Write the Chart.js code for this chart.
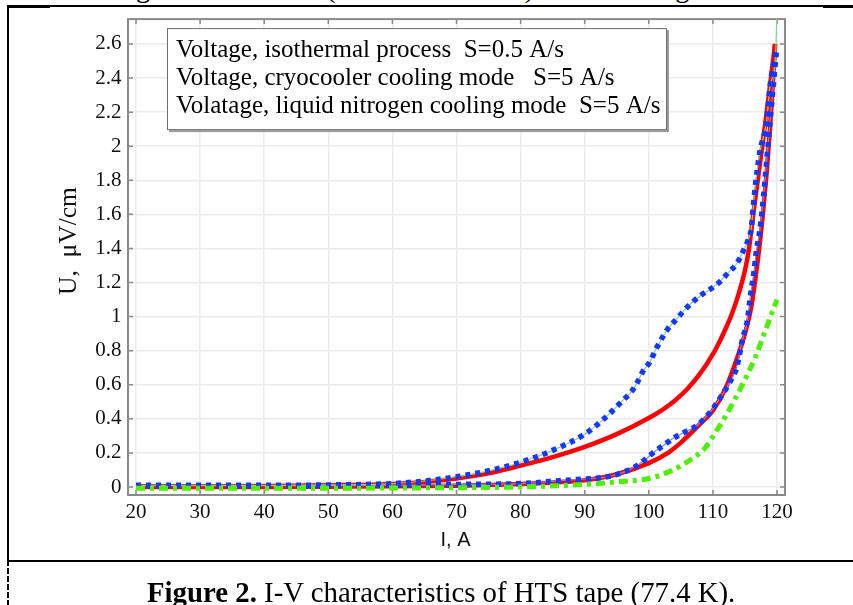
<!DOCTYPE html>
<html lang="en">
<head>
<meta charset="UTF-8">
<title>I-V characteristics of HTS tape</title>
<style>
  html, body { margin: 0; padding: 0; background: #fff; overflow: hidden; }
  #wrap { position: relative; width: 853px; height: 605px; }
  #ivChart { position: absolute; left: 0; top: 0; }
  .rule { position: absolute; background: #000; }
  .serif { position: absolute; font-family: 'Liberation Serif', 'Times New Roman', serif; white-space: pre; color: #000; }
  .cut { font-size: 28.5px; line-height: 28.5px; top: -26px; }
  #caption { left: 147px; top: 578px; font-size: 28.8px; line-height: 28.8px; }
</style>
</head>
<body>
<div id="wrap">
  <!-- bottom of the text line above the figure, cut by the page crop -->
  <span class="serif cut" style="left:79px">voltage</span>
  <span class="serif cut" style="left:326px">(in a normal state)</span>
  <span class="serif cut" style="left:604px">cooling</span>

  <div class="rule" style="left:8px; top:5px; width:845px; height:2px"></div>
  <div class="rule" style="left:8px; top:7px; width:42px; height:1px"></div>
  <div class="rule" style="left:823px; top:7px; width:30px; height:1px"></div>
  <div class="rule" style="left:7px; top:5px; width:2px; height:555px"></div>
  <div class="rule" style="left:7px; top:560px; width:2px; height:45px; background:repeating-linear-gradient(to bottom,#000 0 6px,transparent 6px 8px)"></div>
  <div class="rule" style="left:8px; top:560px; width:845px; height:1.5px"></div>
  <div class="rule" style="left:8px; top:561px; width:42px; height:1px"></div>

  <canvas id="ivChart" width="853" height="605"></canvas>

  <div id="caption" class="serif"><b>Figure 2.</b> I-V characteristics of HTS tape (77.4 K).</div>
</div>

<script src="https://cdn.jsdelivr.net/npm/chart.js"></script>
<script>
// axis ticks
const xTicks = [20, 30, 40, 50, 60, 70, 80, 90, 100, 110, 120];
const yTicks = [0, 0.2, 0.4, 0.6, 0.8, 1, 1.2, 1.4, 1.6, 1.8, 2, 2.2, 2.4, 2.6];

const legendLabels = [
  'Voltage, isothermal process  S=0.5 A/s',
  'Voltage, cryocooler cooling mode   S=5 A/s',
  'Volatage, liquid nitrogen cooling mode  S=5 A/s'
];

// red solid loop, lower branch (I, A ; U, uV/cm)
const redLowI = [20, 30, 40, 50, 60, 70, 75, 80, 85, 90, 95, 100, 103, 105, 108, 110, 112, 114, 115, 116, 117, 117.8, 118.4, 118.9, 119.3, 119.7];
const redLowU = [0, 0, 0, 0.002, 0.004, 0.008, 0.012, 0.018, 0.027, 0.04, 0.075, 0.14, 0.2, 0.26, 0.37, 0.45, 0.58, 0.78, 0.9, 1.06, 1.33, 1.6, 1.85, 2.1, 2.33, 2.6];
// red solid loop, upper branch
const redHighI = [20, 30, 40, 50, 60, 65, 70, 75, 80, 85, 90, 95, 100, 102, 104, 106, 108, 110, 111, 112, 113, 114, 115, 115.6, 116.4, 117.6, 118.7, 119.7];
const redHighU = [0.005, 0.005, 0.006, 0.01, 0.018, 0.03, 0.05, 0.08, 0.125, 0.175, 0.235, 0.31, 0.405, 0.45, 0.505, 0.575, 0.665, 0.78, 0.85, 0.93, 1.02, 1.13, 1.27, 1.39, 1.63, 1.97, 2.29, 2.6];

// blue dotted loop, upper branch
const blueHighI = [20, 30, 40, 50, 60, 65, 70, 75, 80, 85, 90, 93, 96, 97.3, 98.3, 99.1, 100.2, 101, 102, 103, 104.3, 105.6, 106.9, 108.2, 109.8, 111.1, 112.4, 113.7, 114.8, 115.5, 116, 116.3, 116.6, 117.3, 118.4, 118.9, 119.8];
const blueHighU = [0.01, 0.01, 0.01, 0.012, 0.02, 0.035, 0.06, 0.095, 0.145, 0.215, 0.31, 0.4, 0.51, 0.56, 0.62, 0.68, 0.735, 0.8, 0.87, 0.93, 0.984, 1.04, 1.087, 1.127, 1.166, 1.205, 1.258, 1.31, 1.39, 1.45, 1.52, 1.645, 1.76, 1.96, 2.15, 2.35, 2.55];
// blue dotted loop, lower branch
const blueLowI = [20, 30, 40, 50, 60, 70, 80, 86, 90, 92.7, 94.3, 96.3, 97.9, 99.4, 101, 102.5, 104, 105.5, 107.1, 108.4, 110, 111.6, 112.7, 113.7, 114.7, 115.3, 116, 116.4, 116.8, 117.3, 117.7, 118.5, 119.4, 119.9];
const blueLowU = [0.008, 0.008, 0.008, 0.008, 0.01, 0.015, 0.02, 0.037, 0.047, 0.055, 0.066, 0.09, 0.12, 0.16, 0.21, 0.25, 0.29, 0.32, 0.35, 0.39, 0.46, 0.55, 0.62, 0.7, 0.88, 0.96, 1.16, 1.26, 1.39, 1.5, 1.63, 1.96, 2.35, 2.55];

// thin green trace under the blue dots, running out of the top of the frame
const isoTailI = [120.05];
const isoTailU = [2.9];

// green dash-dot curve
const greenI = [20, 30, 40, 50, 60, 70, 80, 90, 95, 100, 103.8, 106.5, 108.8, 110.4, 111.9, 113.5, 115, 116.6, 118.3, 120];
const greenU = [-0.008, -0.008, -0.008, -0.008, -0.006, -0.004, 0, 0.015, 0.03, 0.05, 0.1, 0.16, 0.23, 0.32, 0.41, 0.52, 0.63, 0.76, 0.93, 1.1];

const pts = (xs, ys) => xs.map((x, i) => ({ x, y: ys[i] }));

const SERIF = "'Liberation Serif', 'Times New Roman', serif";
const SANS = "'Liberation Sans', Arial, sans-serif";

const frameAndLegend = {
  id: 'frameAndLegend',
  beforeDatasetsDraw(chart) {
    const { ctx, chartArea: a, scales } = chart;
    ctx.save();
    ctx.strokeStyle = '#8a8a8a';
    ctx.lineWidth = 2;
    ctx.strokeRect(a.left, a.top, a.right - a.left, a.bottom - a.top);
    ctx.lineWidth = 1.5;
    ctx.beginPath();
    xTicks.forEach(v => {
      const px = scales.x.getPixelForValue(v);
      ctx.moveTo(px, a.bottom); ctx.lineTo(px, a.bottom - 5);
      ctx.moveTo(px, a.top); ctx.lineTo(px, a.top + 5);
    });
    yTicks.forEach(v => {
      const py = scales.y.getPixelForValue(v);
      ctx.moveTo(a.left, py); ctx.lineTo(a.left + 5, py);
      ctx.moveTo(a.right, py); ctx.lineTo(a.right - 5, py);
    });
    ctx.stroke();
    ctx.restore();
  },
  afterDraw(chart) {
    const { ctx, chartArea: a } = chart;
    ctx.save();
    // legend box
    const bx = a.left + 39, by = a.top + 9, bw = 500, bh = 102;
    ctx.fillStyle = '#9a9a9a';
    ctx.fillRect(bx + 2, by + 2, bw, bh);
    ctx.fillStyle = '#fff';
    ctx.fillRect(bx, by, bw, bh);
    ctx.strokeStyle = '#6e6e6e';
    ctx.lineWidth = 1;
    ctx.strokeRect(bx + 0.5, by + 0.5, bw - 1, bh - 1);
    ctx.fillStyle = '#000';
    ctx.font = '25px ' + SERIF;
    ctx.textBaseline = 'alphabetic';
    ctx.textAlign = 'left';
    legendLabels.forEach((t, i) => ctx.fillText(t, bx + 9, by + 29 + i * 28));

    // axis titles
    ctx.fillStyle = '#111';
    ctx.textAlign = 'center';
    ctx.textBaseline = 'middle';
    ctx.font = '20px ' + SANS;
    ctx.fillText('I, A', (a.left + a.right) / 2 - 1, a.bottom + 45);
    ctx.translate(69, (a.top + a.bottom) / 2 - 16);
    ctx.rotate(-Math.PI / 2);
    ctx.font = '25.5px ' + SERIF;
    ctx.fillText('U,  \u03bcV/cm', 0, 0);
    ctx.restore();
  }
};

const baseLine = { showLine: true, pointRadius: 0, fill: false, cubicInterpolationMode: 'monotone', borderCapStyle: 'butt' };

new Chart(document.getElementById('ivChart'), {
  type: 'scatter',
  data: {
    datasets: [
      { ...baseLine, label: 'green', data: pts(greenI, greenU), borderColor: '#4cf000', borderWidth: 5, borderDash: [9, 5, 4, 5], order: 0 },
      { ...baseLine, label: 'blue up', data: pts(blueHighI, blueHighU), borderColor: '#1438ff', borderWidth: 5.5, borderDash: [5, 5], order: 1 },
      { ...baseLine, label: 'blue down', data: pts(blueLowI, blueLowU), borderColor: '#1438ff', borderWidth: 5.5, borderDash: [5, 5], order: 1 },
      { ...baseLine, label: 'thin green', data: pts(blueHighI.concat(isoTailI), blueHighU.concat(isoTailU)), borderColor: '#86d486', borderWidth: 1.2, order: 2, clip: 0 },
      { ...baseLine, label: 'thin blue', data: pts(blueLowI, blueLowU), borderColor: '#7088ff', borderWidth: 1.2, order: 2 },
      { ...baseLine, label: 'red up', data: pts(redHighI, redHighU), borderColor: '#ff0000', borderWidth: 4.5, order: 3 },
      { ...baseLine, label: 'red down', data: pts(redLowI, redLowU), borderColor: '#ff0000', borderWidth: 4.5, order: 3 }
    ]
  },
  options: {
    responsive: false,
    devicePixelRatio: 1,
    animation: false,
    layout: { padding: { top: 19, right: 68, left: 0, bottom: 0 } },
    plugins: { legend: { display: false }, tooltip: { enabled: false } },
    scales: {
      x: {
        type: 'linear',
        min: 18.75,
        max: 121.25,
        afterBuildTicks: s => { s.ticks = xTicks.map(v => ({ value: v })); },
        afterFit: s => { s.height = 110; },
        grid: { color: '#ebebeb', lineWidth: 1.5, drawTicks: false },
        border: { display: false },
        ticks: { font: { family: SERIF, size: 21 }, color: '#111', padding: 5, maxRotation: 0, autoSkip: false, callback: v => String(v) }
      },
      y: {
        type: 'linear',
        min: -0.047,
        max: 2.746,
        afterBuildTicks: s => { s.ticks = yTicks.map(v => ({ value: v })); },
        afterFit: s => { s.width = 128; },
        grid: { color: '#ebebeb', lineWidth: 1.5, drawTicks: false },
        border: { display: false },
        ticks: { font: { family: SERIF, size: 21 }, color: '#111', padding: 6.5, autoSkip: false, callback: v => String(v) }
      }
    }
  },
  plugins: [frameAndLegend]
});
</script>
</body>
</html>
